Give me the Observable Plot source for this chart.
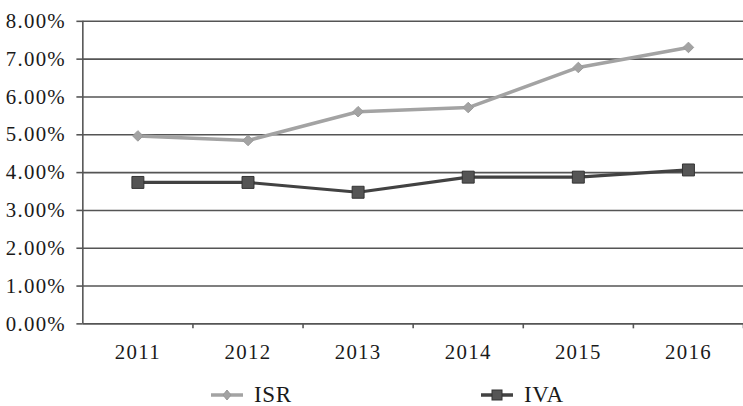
<!DOCTYPE html>
<html>
<head>
<meta charset="utf-8">
<script src="https://cdn.jsdelivr.net/npm/d3@7"></script>
<script src="https://cdn.jsdelivr.net/npm/@observablehq/plot@0.6"></script>
<style>
  html, body { margin: 0; padding: 0; background: #fff; overflow: hidden; width: 743px; height: 406px; }
  #chart svg { display: block; }
  #chart text { letter-spacing: 1.3px; }
  #legend { position: relative; height: 36px; width: 743px; font-family: "Liberation Serif", serif; font-size: 23px; letter-spacing: 0.6px; color: #1a1a1a; }
  .item { position: absolute; top: 15px; display: flex; align-items: center; white-space: nowrap; }
  .item svg { margin-right: 11px; }
</style>
</head>
<body>
<div id="chart"></div>
<div id="legend"></div>
<script>
const years = [2011, 2012, 2013, 2014, 2015, 2016];
const isr = [0.0497, 0.0485, 0.0561, 0.0572, 0.0678, 0.0731];
const iva = [0.0374, 0.0374, 0.0348, 0.0388, 0.0388, 0.0407];
const yTicks = [0, 0.01, 0.02, 0.03, 0.04, 0.05, 0.06, 0.07, 0.08];
const seriesNames = ["ISR", "IVA"];
const lineColors = {ISR: "#a3a3a3", IVA: "#424242"};

const boundaries = years.map(y => y - 0.5).concat([years[years.length - 1] + 0.5]);
const isrData = years.map((y, i) => ({year: y, value: isr[i]}));
const ivaData = years.map((y, i) => ({year: y, value: iva[i]}));

const font = "Liberation Serif";
const chart = Plot.plot({
  width: 749,
  height: 370,
  marginLeft: 83,
  marginRight: 0,
  marginTop: 21,
  marginBottom: 44,
  style: {fontFamily: font, fontSize: "21px", color: "#1a1a1a", background: "#fff", overflow: "visible"},
  x: {type: "linear", domain: [boundaries[0], boundaries[boundaries.length - 1]]},
  y: {domain: [0, 0.08]},
  marks: [
    Plot.ruleY(yTicks, {stroke: "#555", strokeWidth: 1.6}),
    Plot.ruleX([boundaries[0]], {stroke: "#555", strokeWidth: 1.6}),
    Plot.axisY({ticks: yTicks, tickFormat: d3.format(".2%"), tickSize: 6, tickPadding: 11, stroke: "#555", strokeWidth: 1.6, label: null, fill: "#1a1a1a"}),
    Plot.axisX({ticks: boundaries.slice(1), tickFormat: () => "", tickSize: 5, stroke: "#555", strokeWidth: 1.6, label: null}),
    Plot.axisX({ticks: years, tickFormat: d => String(d), tickSize: 0, tickPadding: 20, label: null, fill: "#1a1a1a"}),
    Plot.line(isrData, {x: "year", y: "value", stroke: lineColors.ISR, strokeWidth: 3.5}),
    Plot.dot(isrData, {x: "year", y: "value", symbol: "diamond2", r: 4.8, fill: lineColors.ISR, stroke: "#999", strokeWidth: 1}),
    Plot.line(ivaData, {x: "year", y: "value", stroke: lineColors.IVA, strokeWidth: 3.2}),
    Plot.dot(ivaData, {x: "year", y: "value", symbol: "square", r: 6.8, fill: "#555", stroke: "#333", strokeWidth: 1})
  ]
});
document.getElementById("chart").appendChild(chart);

const legend = document.getElementById("legend");
const lefts = [211, 481];
seriesNames.forEach((name, i) => {
  const div = document.createElement("div");
  div.className = "item";
  div.style.left = lefts[i] + "px";
  const c = lineColors[name];
  const marker = name === "ISR"
    ? `<path d="M16,4 L20,9 L16,14 L12,9 Z" fill="${c}" stroke="#999" stroke-width="1"/>`
    : `<rect x="11" y="4" width="10" height="10" fill="#555" stroke="#333" stroke-width="1"/>`;
  div.innerHTML = `<svg width="32" height="18"><line x1="0" x2="32" y1="9" y2="9" stroke="${c}" stroke-width="3.5"/>${marker}</svg><span>${name}</span>`;
  legend.appendChild(div);
});
</script>
</body>
</html>
